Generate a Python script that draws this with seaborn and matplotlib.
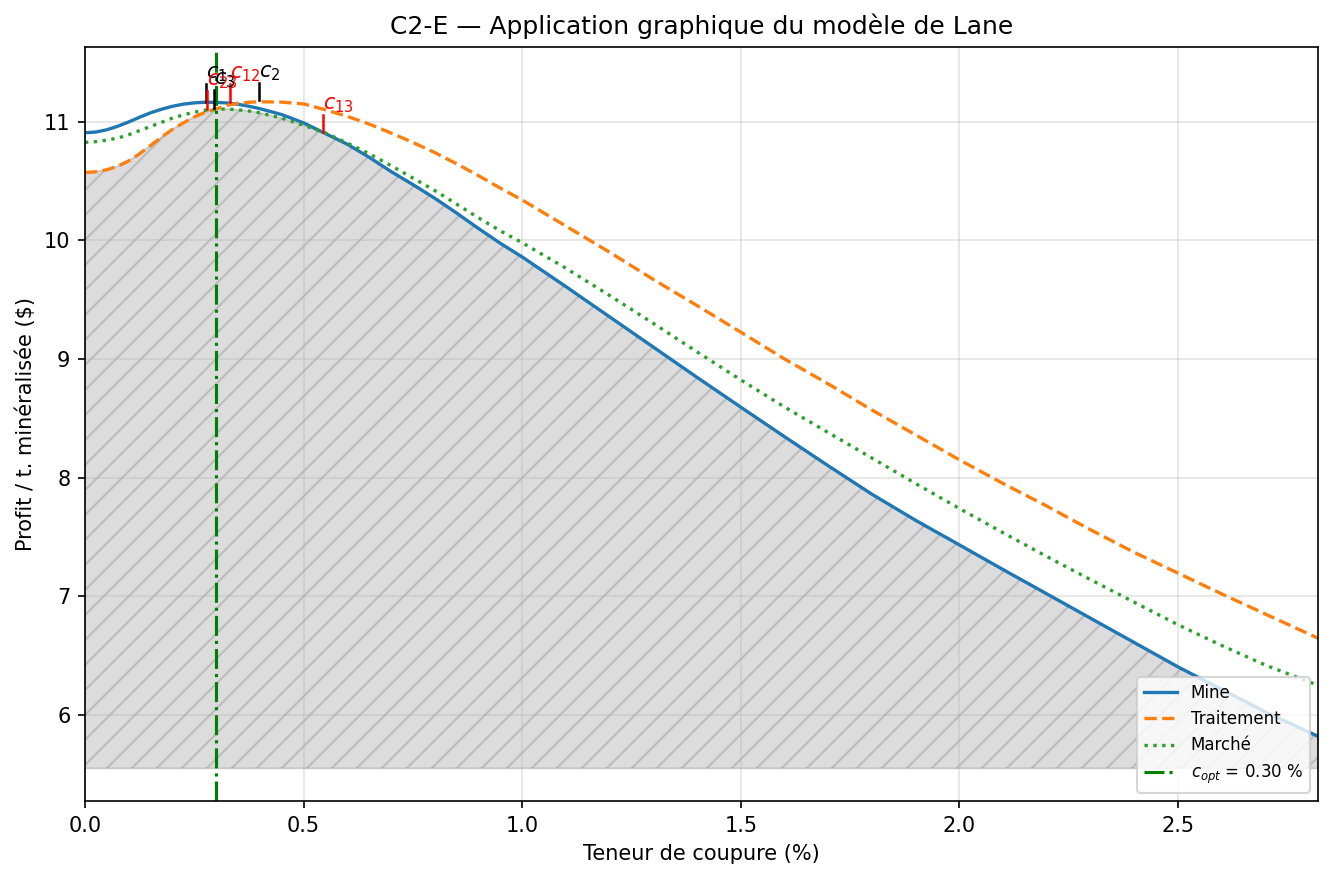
# Lane cut-off grade chart (C2-E)
import numpy as np
import pandas as pd
import matplotlib
matplotlib.use("Agg")
import matplotlib.pyplot as plt
import seaborn as sns

# ---------------------------------------------------------
# Data
# ---------------------------------------------------------
teneur = [0.0, 0.025, 0.05, 0.075, 0.1, 0.125, 0.15, 0.175, 0.2, 0.225,
          0.25, 0.275, 0.3, 0.325, 0.35, 0.375, 0.4, 0.45, 0.5, 0.55,
          0.6, 0.65, 0.7, 0.75, 0.8, 0.85, 0.9, 0.95, 1.0,
          1.1, 1.2, 1.3, 1.4, 1.5, 1.6, 1.7, 1.8, 1.9, 2.0,
          2.1, 2.2, 2.3, 2.4, 2.5, 2.6, 2.7, 2.82]

mine = [10.907, 10.913, 10.932, 10.962, 10.998, 11.038, 11.075, 11.105,
        11.13, 11.148, 11.159, 11.164, 11.163, 11.158, 11.147, 11.13, 11.11,
        11.06, 10.99, 10.90, 10.81, 10.70, 10.58, 10.47, 10.355, 10.23,
        10.10, 9.975, 9.86,
        9.61, 9.355, 9.10, 8.845, 8.594, 8.345, 8.10, 7.86, 7.64, 7.433,
        7.225, 7.02, 6.815, 6.61, 6.405, 6.215, 6.025, 5.82]

traitement = [10.572, 10.578, 10.595, 10.625, 10.67, 10.73, 10.80, 10.87,
              10.935, 10.99, 11.04, 11.08, 11.108, 11.138, 11.155, 11.164,
              11.168, 11.165, 11.15, 11.10, 11.045, 10.98, 10.905, 10.825,
              10.74, 10.645, 10.545, 10.44, 10.34,
              10.12, 9.90, 9.67, 9.45, 9.226, 9.00, 8.79, 8.57, 8.36, 8.15,
              7.95, 7.76, 7.56, 7.37, 7.195, 7.02, 6.85, 6.647]

marche = [10.826, 10.832, 10.845, 10.862, 10.89, 10.925, 10.96, 10.995,
          11.03, 11.058, 11.08, 11.097, 11.106, 11.107, 11.10, 11.09, 11.075,
          11.03, 10.97, 10.905, 10.82, 10.73, 10.63, 10.525, 10.42, 10.305,
          10.19, 10.08, 9.98,
          9.765, 9.535, 9.30, 9.06, 8.824, 8.595, 8.38, 8.165, 7.95, 7.74,
          7.535, 7.335, 7.14, 6.95, 6.76, 6.585, 6.42, 6.25]

c_opt = 0.30
base_fill = 5.55

# annotated grades: name, grade, profit at that grade, colour
annot_names = ["$c_1$", "$c_{23}$", "$c_3$", "$c_{12}$", "$c_2$", "$c_{13}$"]
annot_x = [0.277, 0.280, 0.296, 0.332, 0.399, 0.545]
annot_y = [11.16, 11.10, 11.107, 11.155, 11.17, 10.90]
annot_colors = ["black", "red", "black", "red", "black", "red"]

df = pd.DataFrame({
    "teneur": teneur,
    "Mine": mine,
    "Traitement": traitement,
    "Marché": marche,
})

# ---------------------------------------------------------
# Plot
# ---------------------------------------------------------
fig, ax = plt.subplots(figsize=(1334 / 150, 881 / 150), dpi=150)
fig.subplots_adjust(left=0.0637, right=0.988, top=0.9467, bottom=0.0908)

# shaded area under the lowest curve
y_min = np.minimum(np.minimum(df["Mine"], df["Traitement"]), df["Marché"])
ax.fill_between(df["teneur"], y_min, base_fill,
                facecolor=(0.5, 0.5, 0.5, 0.27),
                edgecolor=(0.5, 0.5, 0.5, 0.35),
                hatch="//", linewidth=0.8)

sns.lineplot(data=df, x="teneur", y="Mine", ax=ax, color="tab:blue",
             linewidth=1.6, label="Mine")
sns.lineplot(data=df, x="teneur", y="Traitement", ax=ax, color="tab:orange",
             linewidth=1.6, linestyle="--", label="Traitement")
sns.lineplot(data=df, x="teneur", y="Marché", ax=ax, color="tab:green",
             linewidth=1.6, linestyle=":", label="Marché")

ax.axvline(c_opt, color="green", linestyle="-.", linewidth=1.5,
           label=f"$c_{{opt}}$ = {c_opt:.2f} %")

# tick marks + labels for the particular grades
for name, gx, gy, col in zip(annot_names, annot_x, annot_y, annot_colors):
    ax.plot([gx, gx], [gy + 0.01, gy + 0.16], color=col, linewidth=1.2)
    ax.text(gx, gy + 0.16, name, color=col, fontsize=10,
            ha="left", va="bottom")

ax.set_xlim(0, 2.82)
ax.set_ylim(5.275, 11.63)
ax.set_title("C2-E — Application graphique du modèle de Lane")
ax.set_xlabel("Teneur de coupure (%)")
ax.set_ylabel("Profit / t. minéralisée ($)")
ax.grid(True, alpha=0.35)
ax.legend(loc="lower right", fontsize=8)

plt.savefig("out.png", dpi=150)
